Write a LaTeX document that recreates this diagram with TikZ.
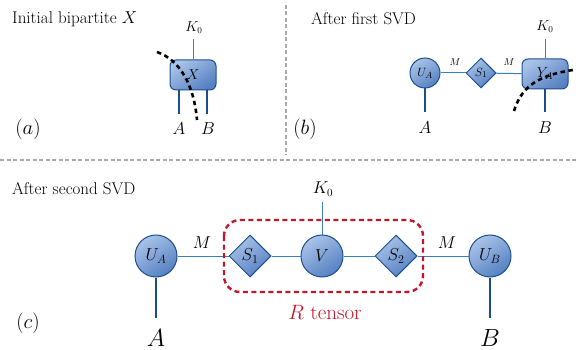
\documentclass[tikz,border=0pt]{standalone}
\usetikzlibrary{shapes.geometric}
\definecolor{nfillA}{HTML}{A9C3E8}
\definecolor{nfillB}{HTML}{5580C2}
\definecolor{nborder}{HTML}{1E4F8C}
\definecolor{thinline}{HTML}{3B7DC4}
\definecolor{legcol}{HTML}{1A4F8A}
\definecolor{rtred}{HTML}{C0172A}
\definecolor{sepgray}{HTML}{AAAAAA}
\newcommand{\fs}[1]{\fontsize{#1}{#1}\selectfont}
\begin{document}
\begin{tikzpicture}[x=1pt,y=-1pt,
  tnode/.style={draw=nborder,line width=1pt,top color=nfillA,bottom color=nfillB,shading angle=35,inner sep=0pt},
  tcirc/.style={tnode,circle,minimum size=#1},
  tdiam/.style={tnode,diamond,aspect=1,minimum width=#1,minimum height=#1},
  tbox/.style={tnode,rectangle,rounded corners=6pt,minimum width=46pt,minimum height=30pt},
  bond/.style={thinline,line width=1pt},
  leg/.style={legcol,line width=2.6pt},
  cut/.style={black,line width=2.6pt,dash pattern=on 4.5pt off 3.5pt},
  sep/.style={sepgray,line width=1.3pt,dash pattern=on 4pt off 2.5pt},
  lbl/.style={inner sep=0pt}]
\useasboundingbox (0,0) rectangle (576,350);
% separators
\coordinate (sv1) at (286,5);
\coordinate (sv2) at (286,155);
\coordinate (sh1) at (0,160);
\coordinate (sh2) at (576,160);
\draw[sep] (sv1) -- (sv2);
\draw[sep] (sh1) -- (sh2);

% ---------- panel (a)
\node[lbl,anchor=west] (ta) at (12,19) {\fs{17}Initial bipartite $X$};
\node[tbox] (X) at (193,75) {\fs{15}$X$};
\node[lbl] (K0a) at (194,28) {\fs{13.5}$K_0$};
\coordinate (K0aend) at (193,39);
\draw[bond] (X.north) -- (K0aend);
\coordinate (XA) at (179,90);
\coordinate (XB) at (207,90);
\coordinate (XAe) at (179,114);
\coordinate (XBe) at (207,114);
\draw[leg] (XA) -- (XAe);
\draw[leg] (XB) -- (XBe);
\node[lbl] (Aa) at (179,129) {\fs{17}$A$};
\node[lbl] (Ba) at (208,129) {\fs{17}$B$};
\coordinate (ca1) at (157,52);
\coordinate (ca2) at (197,120);
\draw[cut] (ca1) .. controls (180,60) and (194,85) .. (ca2);
\node[lbl] (la) at (28,129) {\fs{21}$(a)$};

% ---------- panel (b)
\node[lbl,anchor=west] (tb) at (311,19) {\fs{17}After first SVD};
\node[tcirc=30pt] (UAb) at (425,73) {\fs{13}$U_A$};
\node[tdiam=30pt] (S1b) at (481,73) {\fs{13}$S_1$};
\node[tbox] (YA) at (545,74) {\fs{14}$Y_A$};
\draw[bond] (UAb) -- (S1b);
\draw[bond] (S1b) -- (YA);
\node[lbl] (Mb1) at (455,62) {\fs{10}$M$};
\node[lbl] (Mb2) at (509,62) {\fs{10}$M$};
\node[lbl] (K0b) at (545,27) {\fs{13.5}$K_0$};
\coordinate (K0bend) at (545,39);
\draw[bond] (YA.north) -- (K0bend);
\coordinate (UAbe) at (425,112);
\draw[leg] (UAb.south) -- (UAbe);
\coordinate (YAe) at (545,112);
\draw[leg] (YA.south) -- (YAe);
\node[lbl] (Ab) at (425,128) {\fs{17}$A$};
\node[lbl] (Bb) at (545,128) {\fs{17}$B$};
\coordinate (cb1) at (514,111);
\coordinate (cb2) at (580,69);
\draw[cut] (cb1) .. controls (522,85) and (540,74) .. (cb2);
\node[lbl] (lb) at (305,129) {\fs{21}$(b)$};

% ---------- panel (c)
\node[lbl,anchor=west] (tc) at (12,189) {\fs{17}After second SVD};
\node[tcirc=42pt] (UA) at (156,256) {\fs{17}$U_A$};
\node[tdiam=42pt] (S1) at (250,256) {\fs{17}$S_1$};
\node[tcirc=42pt] (V) at (322,256) {\fs{17}$V$};
\node[tdiam=42pt] (S2) at (396,256) {\fs{17}$S_2$};
\node[tcirc=42pt] (UB) at (490,256) {\fs{17}$U_B$};
\draw[bond] (UA) -- (S1);
\draw[bond] (S1) -- (V);
\draw[bond] (V) -- (S2);
\draw[bond] (S2) -- (UB);
\node[lbl] (Mc1) at (202,243) {\fs{16}$M$};
\node[lbl] (Mc2) at (447,243) {\fs{16}$M$};
\node[lbl] (K0c) at (323,189) {\fs{16}$K_0$};
\coordinate (K0cend) at (322,202);
\draw[bond] (V.north) -- (K0cend);
\coordinate (UAe) at (156,318);
\coordinate (UBe) at (490,318);
\draw[leg] (UA.south) -- (UAe);
\draw[leg] (UB.south) -- (UBe);
\node[lbl,anchor=base] (Ac) at (156,346) {\fs{25}$A$};
\node[lbl,anchor=base] (Bc) at (490,346) {\fs{25}$B$};
\coordinate (R1) at (224,220);
\coordinate (R2) at (423,292);
\draw[rtred,line width=2.4pt,dash pattern=on 5pt off 3.5pt,rounded corners=16pt] (R1) rectangle (R2);
\node[lbl,text=rtred] (Rt) at (325,312) {\fs{21}$R$ tensor};
\node[lbl] (lc) at (28,323) {\fs{21}$(c)$};
\end{tikzpicture}
\end{document}
